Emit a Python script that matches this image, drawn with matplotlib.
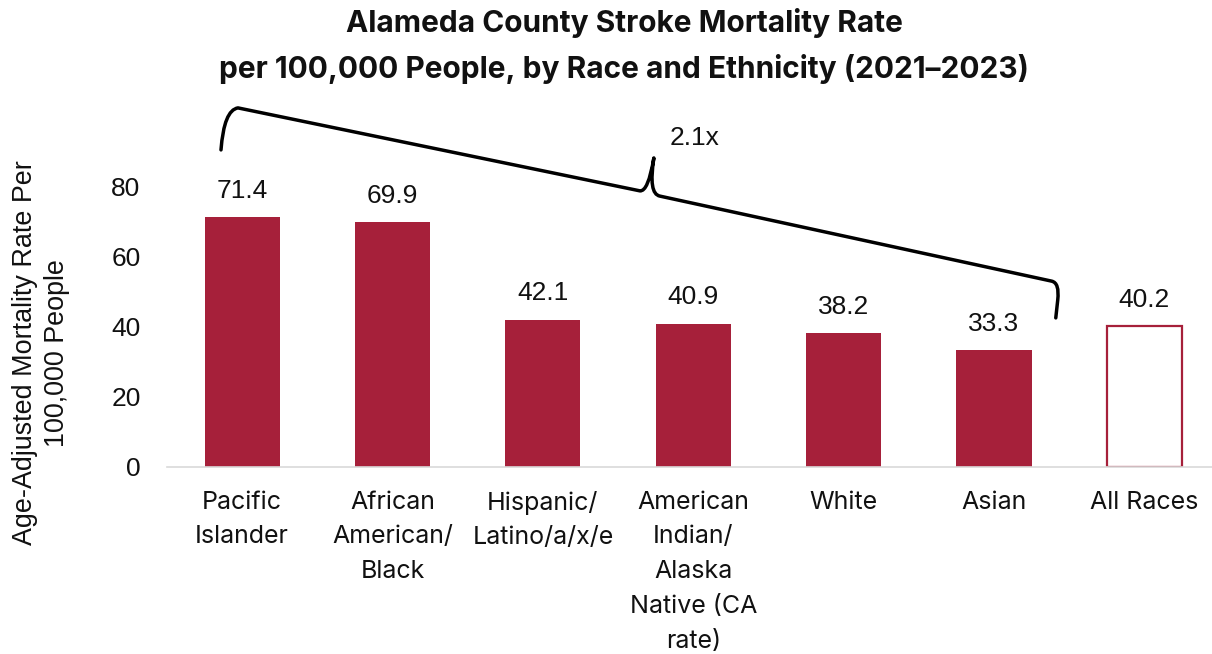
import matplotlib
matplotlib.use("Agg")
import matplotlib.pyplot as plt
from matplotlib.path import Path
from matplotlib.patches import PathPatch

# Data
categories = [
    "Pacific\nIslander",
    "African\nAmerican/\nBlack",
    "Hispanic/\nLatino/a/x/e",
    "American\nIndian/\nAlaska\nNative (CA\nrate)",
    "White",
    "Asian",
    "All Races",
]
rates = [71.4, 69.9, 42.1, 40.9, 38.2, 33.3, 40.2]
rate_labels = ["71.4", "69.9", "42.1", "40.9", "38.2", "33.3", "40.2"]
yticks = [0, 20, 40, 60, 80]
disparity_label = "2.1x"

BAR_COLOR = "#A6203A"
NUM_FONT = "Liberation Sans"
CAT_FONT = "Inter"
TEXT_COLOR = "#111111"

fig = plt.figure(figsize=(12.12, 6.54), dpi=100)
ax = fig.add_axes([167 / 1212, (654 - 467) / 654, (1212 - 167) / 1212, (467 - 100) / 654])

x = list(range(len(categories)))
for i, v in enumerate(rates):
    if categories[i] == "All Races":
        ax.bar(i, v, width=0.5, facecolor="white", edgecolor=BAR_COLOR, linewidth=1.6)
    else:
        ax.bar(i, v, width=0.5, color=BAR_COLOR, linewidth=0)
    ax.annotate(rate_labels[i], (i, v), xytext=(0, 10.5), textcoords="offset points",
                ha="center", va="bottom", fontsize=19, family=NUM_FONT, color=TEXT_COLOR)

ax.set_xlim(-0.5, 6.45)
ax.set_ylim(0, (467 - 100) / 3.5)
ax.set_yticks(yticks)
ax.set_yticklabels([str(t) for t in yticks], family=NUM_FONT, fontsize=19, color=TEXT_COLOR)
ax.set_xticks(x)
ax.set_xticklabels(categories, family=CAT_FONT, fontsize=18, color=TEXT_COLOR, linespacing=1.66)
ax.tick_params(axis="y", length=0, pad=19)
ax.tick_params(axis="x", length=0, pad=17)
for side in ["top", "right", "left"]:
    ax.spines[side].set_visible(False)
ax.spines["bottom"].set_color("#D9D9D9")
ax.spines["bottom"].set_linewidth(1.2)

ax.text((41 - 167) / 1045, (467 - 353) / 367, "Age-Adjusted Mortality Rate Per\n100,000 People",
        transform=ax.transAxes, rotation=90, ha="center", va="center", multialignment="center",
        family=NUM_FONT, fontsize=19.4, color=TEXT_COLOR, linespacing=1.3)

# Brace spanning the highest to lowest group
verts = [
    (-0.141, 90.6), (-0.121, 102.0), (-0.028, 102.6),
    (2.645, 78.9),
    (2.70, 78.6), (2.738, 88.3),
    (2.70, 78.0), (2.778, 77.4),
    (5.384, 53.1),
    (5.437, 52.6), (5.424, 47.7),
    (5.411, 42.6),
]
codes = [
    Path.MOVETO, Path.CURVE3, Path.CURVE3,
    Path.LINETO,
    Path.CURVE3, Path.CURVE3,
    Path.CURVE3, Path.CURVE3,
    Path.LINETO,
    Path.CURVE3, Path.CURVE3,
    Path.LINETO,
]
ax.add_patch(PathPatch(Path(verts, codes), facecolor="none", edgecolor="black",
                       linewidth=2.5, clip_on=False, capstyle="round", joinstyle="round"))
ax.text(3.01, 94.0, disparity_label, ha="center", va="center", fontsize=19,
        family=NUM_FONT, color=TEXT_COLOR)

fig.text(624 / 1212, 1 - 23 / 654, "Alameda County Stroke Mortality Rate", ha="center",
         va="center", fontsize=21.5, fontweight="bold", family=CAT_FONT, color=TEXT_COLOR)
fig.text(624 / 1212, 1 - 69 / 654, "per 100,000 People, by Race and Ethnicity (2021\u20132023)",
         ha="center", va="center", fontsize=21.5, fontweight="bold", family=CAT_FONT, color=TEXT_COLOR)

fig.savefig("out.png", dpi=100)
